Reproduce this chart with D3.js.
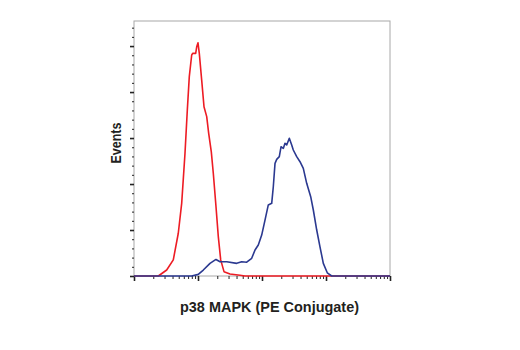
<!DOCTYPE html>
<html><head><meta charset="utf-8">
<script src="https://cdn.jsdelivr.net/npm/d3@7"></script>
<style>body{margin:0;background:#fff}svg{display:block}</style>
</head><body>
<script>
// Isotype control (red) — [fluorescence intensity, events]
const controlX = [1, 2.40, 3.24, 4.11, 4.92, 5.56, 6.26, 6.81, 7.31, 7.97, 8.26, 9.20, 9.55, 10, 10.48, 11.42, 12.41, 13.68, 14.69, 16.14, 17.34, 19.11, 20.76, 22.63, 25.48, 31.6, 45.3, 54.2, 10000];
const controlY = [0, 0, 26, 70, 186, 316, 533, 722, 867, 961, 968, 968, 997, 1014, 968, 852, 736, 693, 620, 540, 447, 301, 171, 70, 19, 9, 3, 0, 0];
// p38 MAPK (PE Conjugate) stained (blue)
const stainX = [1, 7.97, 10.1, 12.1, 15.4, 19.1, 22.1, 28.1, 40.2, 48.2, 57.7, 69.0, 77.8, 87.5, 98.9, 111.4, 125.4, 141.8, 150.2, 159.7, 169.7, 186.4, 198.2, 215.3, 228.7, 243.2, 267.1, 291.1, 308.3, 348.5, 392.4, 441.9, 499.3, 576.8, 633.7, 716.1, 805.4, 907.8, 1047, 1228, 10000];
const stainY = [0, 0, 7, 26, 55, 72, 62, 62, 55, 62, 60, 77, 113, 135, 178, 243, 309, 316, 388, 490, 507, 519, 562, 555, 577, 570, 599, 570, 548, 519, 497, 468, 403, 345, 287, 200, 127, 55, 14, 0, 0];
const yMajorTicks = [0, 200, 400, 600, 800, 1000];
const yMinorTicks = d3.range(0, 1101, 40).filter(v => v % 200 !== 0);
const xMajorTicks = [1, 10, 100, 1000, 10000];
const xMinorTicks = [];
[1, 10, 100, 1000].forEach(d => { for (let k = 2; k <= 9; k++) xMinorTicks.push(d * k); });
const xTitle = "p38 MAPK (PE Conjugate)";
const yTitle = "Events";

const W = 520, H = 350;
const L = 134, R = 390, T = 21, B = 276;
const svg = d3.select("body").append("svg").attr("width", W).attr("height", H);
const x = d3.scaleLog().domain([1, 10000]).range([L, R]);
const y = d3.scaleLinear().domain([0, 1109]).range([B, T]);

// frame
svg.append("rect").attr("x", L).attr("y", T).attr("width", R - L).attr("height", B - T)
  .attr("fill", "none").attr("stroke", "#a8a8a8").attr("stroke-width", 1);

function styleAxis(g, w) {
  g.select(".domain").remove();
  g.selectAll(".tick line").attr("stroke", "#222").attr("stroke-width", w);
  g.selectAll(".tick text").remove();
}
svg.append("g").attr("transform", `translate(${L},0)`)
  .call(d3.axisLeft(y).tickValues(yMinorTicks).tickSize(2).tickFormat(""))
  .call(g => styleAxis(g, 1));
svg.append("g").attr("transform", `translate(${L},0)`)
  .call(d3.axisLeft(y).tickValues(yMajorTicks).tickSize(4).tickFormat(""))
  .call(g => styleAxis(g, 1.6));
svg.append("g").attr("transform", `translate(0,${B})`)
  .call(d3.axisBottom(x).tickValues(xMinorTicks).tickSize(3).tickFormat(""))
  .call(g => styleAxis(g, 1));
svg.append("g").attr("transform", `translate(0,${B})`)
  .call(d3.axisBottom(x).tickValues(xMajorTicks).tickSize(5).tickFormat(""))
  .call(g => styleAxis(g, 1.6));

const line = d3.line().x(d => x(d[0])).y(d => y(d[1])).curve(d3.curveLinear);
svg.append("path").datum(controlX.map((v, i) => [v, controlY[i]]))
  .attr("d", line).attr("fill", "none").attr("stroke", "#ed1c24").attr("stroke-width", 1.6)
  .attr("stroke-linejoin", "round");
svg.append("path").datum(stainX.map((v, i) => [v, stainY[i]]))
  .attr("d", line).attr("fill", "none").attr("stroke", "#2b3990").attr("stroke-width", 1.6)
  .attr("stroke-linejoin", "round");

svg.append("text").attr("x", 269.5).attr("y", 312).attr("text-anchor", "middle")
  .attr("font-family", "Liberation Sans, Arial, sans-serif").attr("font-weight", "bold")
  .attr("font-size", 15.5).attr("fill", "#231f20")
  .attr("textLength", 179).attr("lengthAdjust", "spacingAndGlyphs").text(xTitle);
svg.append("text").attr("transform", "translate(121,143) rotate(-90)").attr("text-anchor", "middle")
  .attr("font-family", "Liberation Sans, Arial, sans-serif").attr("font-weight", "bold")
  .attr("font-size", 15.5).attr("fill", "#231f20")
  .attr("textLength", 41).attr("lengthAdjust", "spacingAndGlyphs").text(yTitle);
</script>
</body></html>
